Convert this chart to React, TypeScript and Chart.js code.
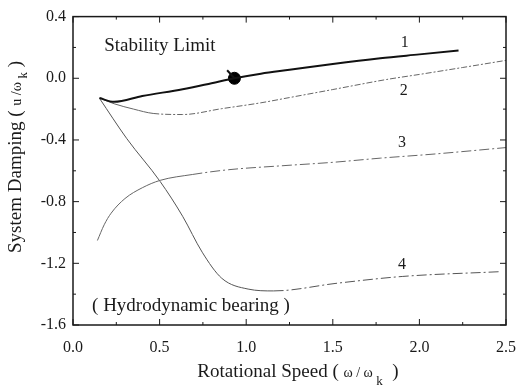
import React, { useEffect, useRef } from "react";
import { Chart, registerables } from "chart.js";

Chart.register(...registerables);

// ---- data ----
const c1Speed = [0.153, 0.237, 0.4, 0.633, 0.8, 0.932, 1.085, 1.25, 1.5, 1.774, 2.0, 2.226];
const c1Damp = [-0.128, -0.153, -0.115, -0.071, -0.032, 0.0, 0.03, 0.055, 0.093, 0.13, 0.155, 0.18];

const c2Speed = [0.153, 0.237, 0.35, 0.463, 0.633, 0.859, 1.085, 1.25, 1.5, 1.81, 2.0, 2.25, 2.51];
const c2Damp = [-0.128, -0.165, -0.2, -0.228, -0.235, -0.197, -0.159, -0.125, -0.073, -0.008, 0.025, 0.07, 0.118];

const c3Speed = [0.141, 0.18, 0.22, 0.3, 0.4, 0.503, 0.689, 0.898, 1.198, 1.5, 1.774, 2.1, 2.514];
const c3Damp = [-1.052, -0.95, -0.875, -0.78, -0.71, -0.662, -0.624, -0.593, -0.568, -0.545, -0.518, -0.49, -0.448];

const c4Speed = [0.153, 0.311, 0.503, 0.633, 0.746, 0.859, 1.011, 1.158, 1.525, 1.904, 2.469];
const c4Damp = [-0.13, -0.392, -0.669, -0.895, -1.128, -1.297, -1.367, -1.379, -1.329, -1.285, -1.254];

const markerSpeed = [0.932];
const markerDamp = [0.0];
const stickSpeed = [0.89, 0.932];
const stickDamp = [0.052, 0.0];

const xMajorTicks = [0, 0.5, 1.0, 1.5, 2.0, 2.5];
const xMinorTicks = [0.25, 0.75, 1.25, 1.75, 2.25];
const yMajorTicks = [-1.6, -1.2, -0.8, -0.4, 0.0, 0.4];
const yMinorTicks = [-1.4, -1.0, -0.6, -0.2, 0.2];

const curveLabels = ["1", "2", "3", "4"];
const curveLabelSpeed = [1.915, 1.91, 1.9, 1.9];
const curveLabelDamp = [0.23, -0.078, -0.417, -1.21];

const SERIF = '"Liberation Serif", "DejaVu Serif", serif';

const pts = (xs: number[], ys: number[]) => xs.map((x, i) => ({ x, y: ys[i] }));

const decorPlugin = {
  id: "decor",
  afterDraw(chart: any) {
    const { ctx, chartArea, scales } = chart;
    const { left, right, top, bottom } = chartArea;
    const x = scales.x;
    const y = scales.y;
    ctx.save();
    ctx.strokeStyle = "#1a1a1a";
    ctx.lineWidth = 1.5;
    ctx.strokeRect(left, top, right - left, bottom - top);
    ctx.lineWidth = 1;
    const drawX = (v: number, L: number) => {
      const px = x.getPixelForValue(v);
      ctx.beginPath();
      ctx.moveTo(px, bottom);
      ctx.lineTo(px, bottom - L);
      ctx.moveTo(px, top);
      ctx.lineTo(px, top + L);
      ctx.stroke();
    };
    const drawY = (v: number, L: number) => {
      const py = y.getPixelForValue(v);
      ctx.beginPath();
      ctx.moveTo(left, py);
      ctx.lineTo(left + L, py);
      ctx.moveTo(right, py);
      ctx.lineTo(right - L, py);
      ctx.stroke();
    };
    xMajorTicks.forEach((v) => drawX(v, 6));
    xMinorTicks.forEach((v) => drawX(v, 3));
    yMajorTicks.forEach((v) => drawY(v, 6));
    yMinorTicks.forEach((v) => drawY(v, 3));

    ctx.fillStyle = "#1a1a1a";
    ctx.textBaseline = "middle";
    ctx.textAlign = "left";
    ctx.font = `19px ${SERIF}`;
    ctx.fillText("Stability Limit", x.getPixelForValue(0.18), y.getPixelForValue(0.21));
    ctx.fillText("( Hydrodynamic bearing )", x.getPixelForValue(0.11), y.getPixelForValue(-1.48));
    ctx.font = `16px ${SERIF}`;
    ctx.textAlign = "center";
    curveLabels.forEach((t, i) => {
      ctx.fillText(t, x.getPixelForValue(curveLabelSpeed[i]), y.getPixelForValue(curveLabelDamp[i]));
    });

    const drawTitle = (parts: { t: string; f: number; dy: number }[], cx: number, base: number) => {
      let total = 0;
      parts.forEach((p) => {
        ctx.font = `${p.f}px ${SERIF}`;
        total += ctx.measureText(p.t).width;
      });
      let cur = cx - total / 2;
      ctx.textAlign = "left";
      ctx.textBaseline = "alphabetic";
      parts.forEach((p) => {
        ctx.font = `${p.f}px ${SERIF}`;
        ctx.fillText(p.t, cur, base + p.dy);
        cur += ctx.measureText(p.t).width;
      });
    };
    drawTitle(
      [
        { t: "Rotational Speed ( ", f: 19, dy: 0 },
        { t: "ω / ω ", f: 14, dy: 0 },
        { t: "k", f: 13, dy: 8 },
        { t: "  )", f: 19, dy: 0 },
      ],
      298,
      377
    );
    ctx.save();
    ctx.translate(21, 157);
    ctx.rotate(-Math.PI / 2);
    drawTitle(
      [
        { t: "System Damping ( ", f: 19, dy: 0 },
        { t: "u /ω ", f: 14, dy: 0 },
        { t: "k", f: 13, dy: 6 },
        { t: " )", f: 19, dy: 0 },
      ],
      0,
      0
    );
    ctx.restore();
    ctx.restore();
  },
};

export default function App() {
  const ref = useRef<HTMLCanvasElement | null>(null);
  useEffect(() => {
    if (!ref.current) return;
    const dashAfter = (limit: number, dash: number[]) => ({
      borderDash: (c: any) => (c.p0.parsed.x >= limit ? dash : undefined),
    });
    const chart = new Chart(ref.current, {
      type: "line",
      data: {
        datasets: [
          {
            data: pts(c1Speed, c1Damp),
            borderColor: "#111",
            borderWidth: 2,
            pointRadius: 0,
            cubicInterpolationMode: "monotone",
          },
          {
            data: pts(c2Speed, c2Damp),
            borderColor: "#666",
            borderWidth: 1,
            pointRadius: 0,
            cubicInterpolationMode: "monotone",
            segment: dashAfter(0.4, [6, 2, 2, 2]),
          },
          {
            data: pts(c3Speed, c3Damp),
            borderColor: "#666",
            borderWidth: 1,
            pointRadius: 0,
            cubicInterpolationMode: "monotone",
            segment: dashAfter(0.6, [10, 3, 2, 3]),
          },
          {
            data: pts(c4Speed, c4Damp),
            borderColor: "#555",
            borderWidth: 1,
            pointRadius: 0,
            cubicInterpolationMode: "monotone",
            segment: dashAfter(1.1, [10, 3, 2, 3]),
          },
          {
            data: pts(stickSpeed, stickDamp),
            borderColor: "#111",
            borderWidth: 2,
            pointRadius: 0,
          },
          {
            data: pts(markerSpeed, markerDamp),
            showLine: false,
            pointRadius: 6,
            pointBackgroundColor: "#000",
            pointBorderColor: "#000",
          },
        ] as any,
      },
      options: {
        animation: false,
        responsive: false,
        layout: { padding: { left: 0, top: 7, right: 12, bottom: 0 } },
        plugins: { legend: { display: false }, tooltip: { enabled: false } },
        scales: {
          x: {
            type: "linear",
            min: 0,
            max: 2.5,
            grid: { display: false, drawTicks: false },
            border: { display: false },
            afterBuildTicks: (s: any) => {
              s.ticks = xMajorTicks.map((v) => ({ value: v }));
            },
            afterFit: (s: any) => {
              s.height = 62;
            },
            ticks: {
              callback: (v: any) => Number(v).toFixed(1),
              font: { family: SERIF, size: 16 },
              color: "#1a1a1a",
              padding: 13,
              maxRotation: 0,
            },
          },
          y: {
            type: "linear",
            min: -1.6,
            max: 0.4,
            grid: { display: false, drawTicks: false },
            border: { display: false },
            afterBuildTicks: (s: any) => {
              s.ticks = yMajorTicks.map((v) => ({ value: v }));
            },
            afterFit: (s: any) => {
              s.width = 73;
            },
            ticks: {
              callback: (v: any) => (Math.abs(Number(v)) < 1e-9 ? "0.0" : Number(v).toFixed(1)),
              font: { family: SERIF, size: 16 },
              color: "#1a1a1a",
              padding: 7,
            },
          },
        },
      } as any,
      plugins: [decorPlugin],
    });
    return () => chart.destroy();
  }, []);
  return (
    <div style={{ position: "absolute", left: 0, top: 0, width: 529, height: 387, background: "#fff" }}>
      <canvas ref={ref} width={529} height={387} style={{ display: "block" }} />
    </div>
  );
}
